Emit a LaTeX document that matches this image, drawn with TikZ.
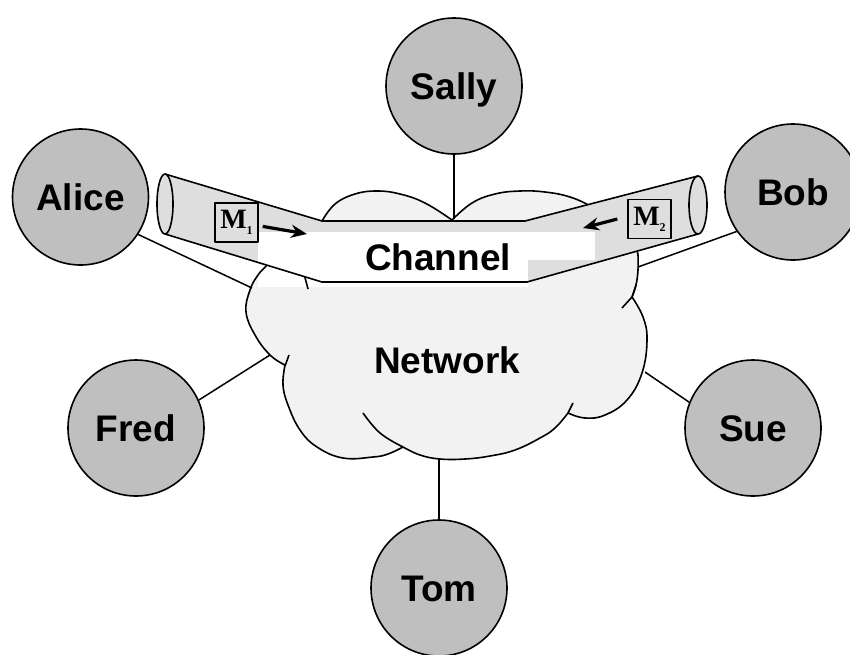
\documentclass[tikz,border=0pt]{standalone}
\usepackage{fontspec}
\setmainfont{Liberation Sans}
\newfontfamily\mfont{Liberation Serif}
\usetikzlibrary{arrows.meta}
\tikzset{
  person/.style={circle, draw, line width=1.6pt, fill=black!25, minimum size=136pt, inner sep=0pt,
    font=\fontsize{37}{40}\selectfont\bfseries, text height=26pt, text depth=0pt},
  biglabel/.style={inner sep=0pt, font=\fontsize{37}{40}\selectfont\bfseries, text height=26pt, text depth=0pt},
  mbox/.style={draw, line width=1.4pt, minimum width=43pt, minimum height=39pt, inner sep=1pt},
  edge/.style={line width=1.6pt},
  link/.style={line width=1.5pt},
  marrow/.style={line width=3.2pt, -{Stealth[length=16pt,width=13pt]}},
}
\newcommand\mlabel[1]{{\mfont\bfseries\fontsize{28}{28}\selectfont M}\raisebox{-6pt}{\mfont\bfseries\fontsize{12}{12}\selectfont #1}}
\begin{document}
\begin{tikzpicture}[x=1pt,y=-1pt, line join=round]
\useasboundingbox (0,0) rectangle (850,654);
\fill[white] (0,0) rectangle (850,654);
% cloud fill
\fill[black!5] plot[smooth,tension=.7] coordinates {(322,221) (335,204) (355,194) (377,191) (400,194) (425,203) (452,220)}
 -- plot[smooth,tension=.7] coordinates {(452,220) (472,203) (495,194) (520,191) (545,192) (570,197) (592,207) (615,222) (632,238) (638,255)}
 -- plot[smooth,tension=.7] coordinates {(638,255) (638,270) (636,285) (632,297)}
 -- plot[smooth,tension=.7] coordinates {(632,297) (643,317) (647,340) (642,373) (627,400) (605,415) (585,418) (568,413)}
 -- plot[smooth,tension=.7] coordinates {(568,413) (555,428) (540,438) (515,450) (490,456) (465,459) (440,459) (420,455) (403,447)}
 -- plot[smooth,tension=.7] coordinates {(403,447) (388,454) (373,457) (343,458) (317,447) (300,430) (288,405) (283,385) (285,365)}
 -- plot[smooth,tension=.7] coordinates {(285,365) (270,355) (255,335) (246,312) (250,290) (258,275) (267,265) (285,245) (305,230) (322,221)}
 -- cycle;
% pipe fill
\fill[black!13] (165,174) -- (322,221) -- (525,221) -- (698,176) -- (698,234) -- (527,282) -- (322,282) -- (165,234) -- cycle;
\fill[black!13] (165,204) ellipse [x radius=8, y radius=30];
\fill[black!13] (698,205) ellipse [x radius=9, y radius=29];
% white areas around the label
\fill[white] (258,232) rectangle (528,287);
\fill[white] (528,232) rectangle (595,260);
% cloud outline, hidden under the pipe
\begin{scope}
\clip (-10,-10) -- (-10,700) -- (900,700) -- (900,-10) -- cycle
  (157,174) -- (322,221) -- (525,221) -- (698,175) -- (708,205) -- (698,235) -- (527,282) -- (322,282) -- (157,234) -- cycle;
\draw[edge] plot[smooth,tension=.7] coordinates {(322,221) (335,204) (355,194) (377,191) (400,194) (425,203) (452,220)}
 -- plot[smooth,tension=.7] coordinates {(452,220) (472,203) (495,194) (520,191) (545,192) (570,197) (592,207) (615,222) (632,238) (638,255)}
 -- plot[smooth,tension=.7] coordinates {(638,255) (638,270) (636,285) (632,297)}
 -- plot[smooth,tension=.7] coordinates {(632,297) (643,317) (647,340) (642,373) (627,400) (605,415) (585,418) (568,413)}
 -- plot[smooth,tension=.7] coordinates {(568,413) (555,428) (540,438) (515,450) (490,456) (465,459) (440,459) (420,455) (403,447)}
 -- plot[smooth,tension=.7] coordinates {(403,447) (388,454) (373,457) (343,458) (317,447) (300,430) (288,405) (283,385) (285,365)}
 -- plot[smooth,tension=.7] coordinates {(285,365) (270,355) (255,335) (246,312) (250,290) (258,275) (267,265) (285,245) (305,230) (322,221)};
\draw[edge] (289,355) -- (285,366);
\draw[edge] (303,270) -- (308,289);
\draw[edge] plot[smooth,tension=.7] coordinates {(363,413) (380,433) (403,447)};
\draw[edge] (573,403) -- (568,413);
\draw[edge] (622,308) -- (632,297);
\draw[edge] (636,285) -- (632,297);
\end{scope}
% pipe outline
\draw[edge] (165,174) -- (322,221) -- (525,221) -- (698,176);
\draw[edge] (165,234) -- (322,282) -- (527,282) -- (698,234);
\draw[edge] (165,204) ellipse [x radius=8, y radius=30];
\draw[edge] (698,205) ellipse [x radius=9, y radius=29];
% labels
\node[biglabel] (channel) at (438,257) {Channel};
\node[biglabel] (network) at (447,360) {Network};
% message boxes
\node[mbox] (m1) at (236.5,222.5) {\mlabel{1}};
\node[mbox] (m2) at (649.5,219) {\mlabel{2}};
\coordinate (a1) at (307,234);
\coordinate (a2) at (583,228);
\draw[marrow] ([xshift=4pt]m1.-10) -- (a1);
\draw[marrow] ([xshift=-10pt]m2.west) -- (a2);
% people
\node[person] (sally) at (454,86) {Sally};
\node[person] (alice) at (80.5,197) {Alice};
\node[person] (bob) at (793,192) {Bob};
\node[person] (fred) at (136,428) {Fred};
\node[person] (sue) at (753,428) {Sue};
\node[person] (tom) at (439,588) {Tom};
% attachment points on the cloud
\coordinate (cS) at (454,219);
\coordinate (cA) at (252,288);
\coordinate (cB) at (638,267);
\coordinate (cF) at (270,355);
\coordinate (cU) at (645,372);
\coordinate (cT) at (439,459);
\draw[link] (sally.south) -- (cS);
\draw[link] (alice.-33) -- (cA);
\draw[link] (bob.215) -- (cB);
\draw[link] (fred.24) -- (cF);
\draw[link] (sue.158) -- (cU);
\draw[link] (tom.north) -- (cT);
\end{tikzpicture}
\end{document}
